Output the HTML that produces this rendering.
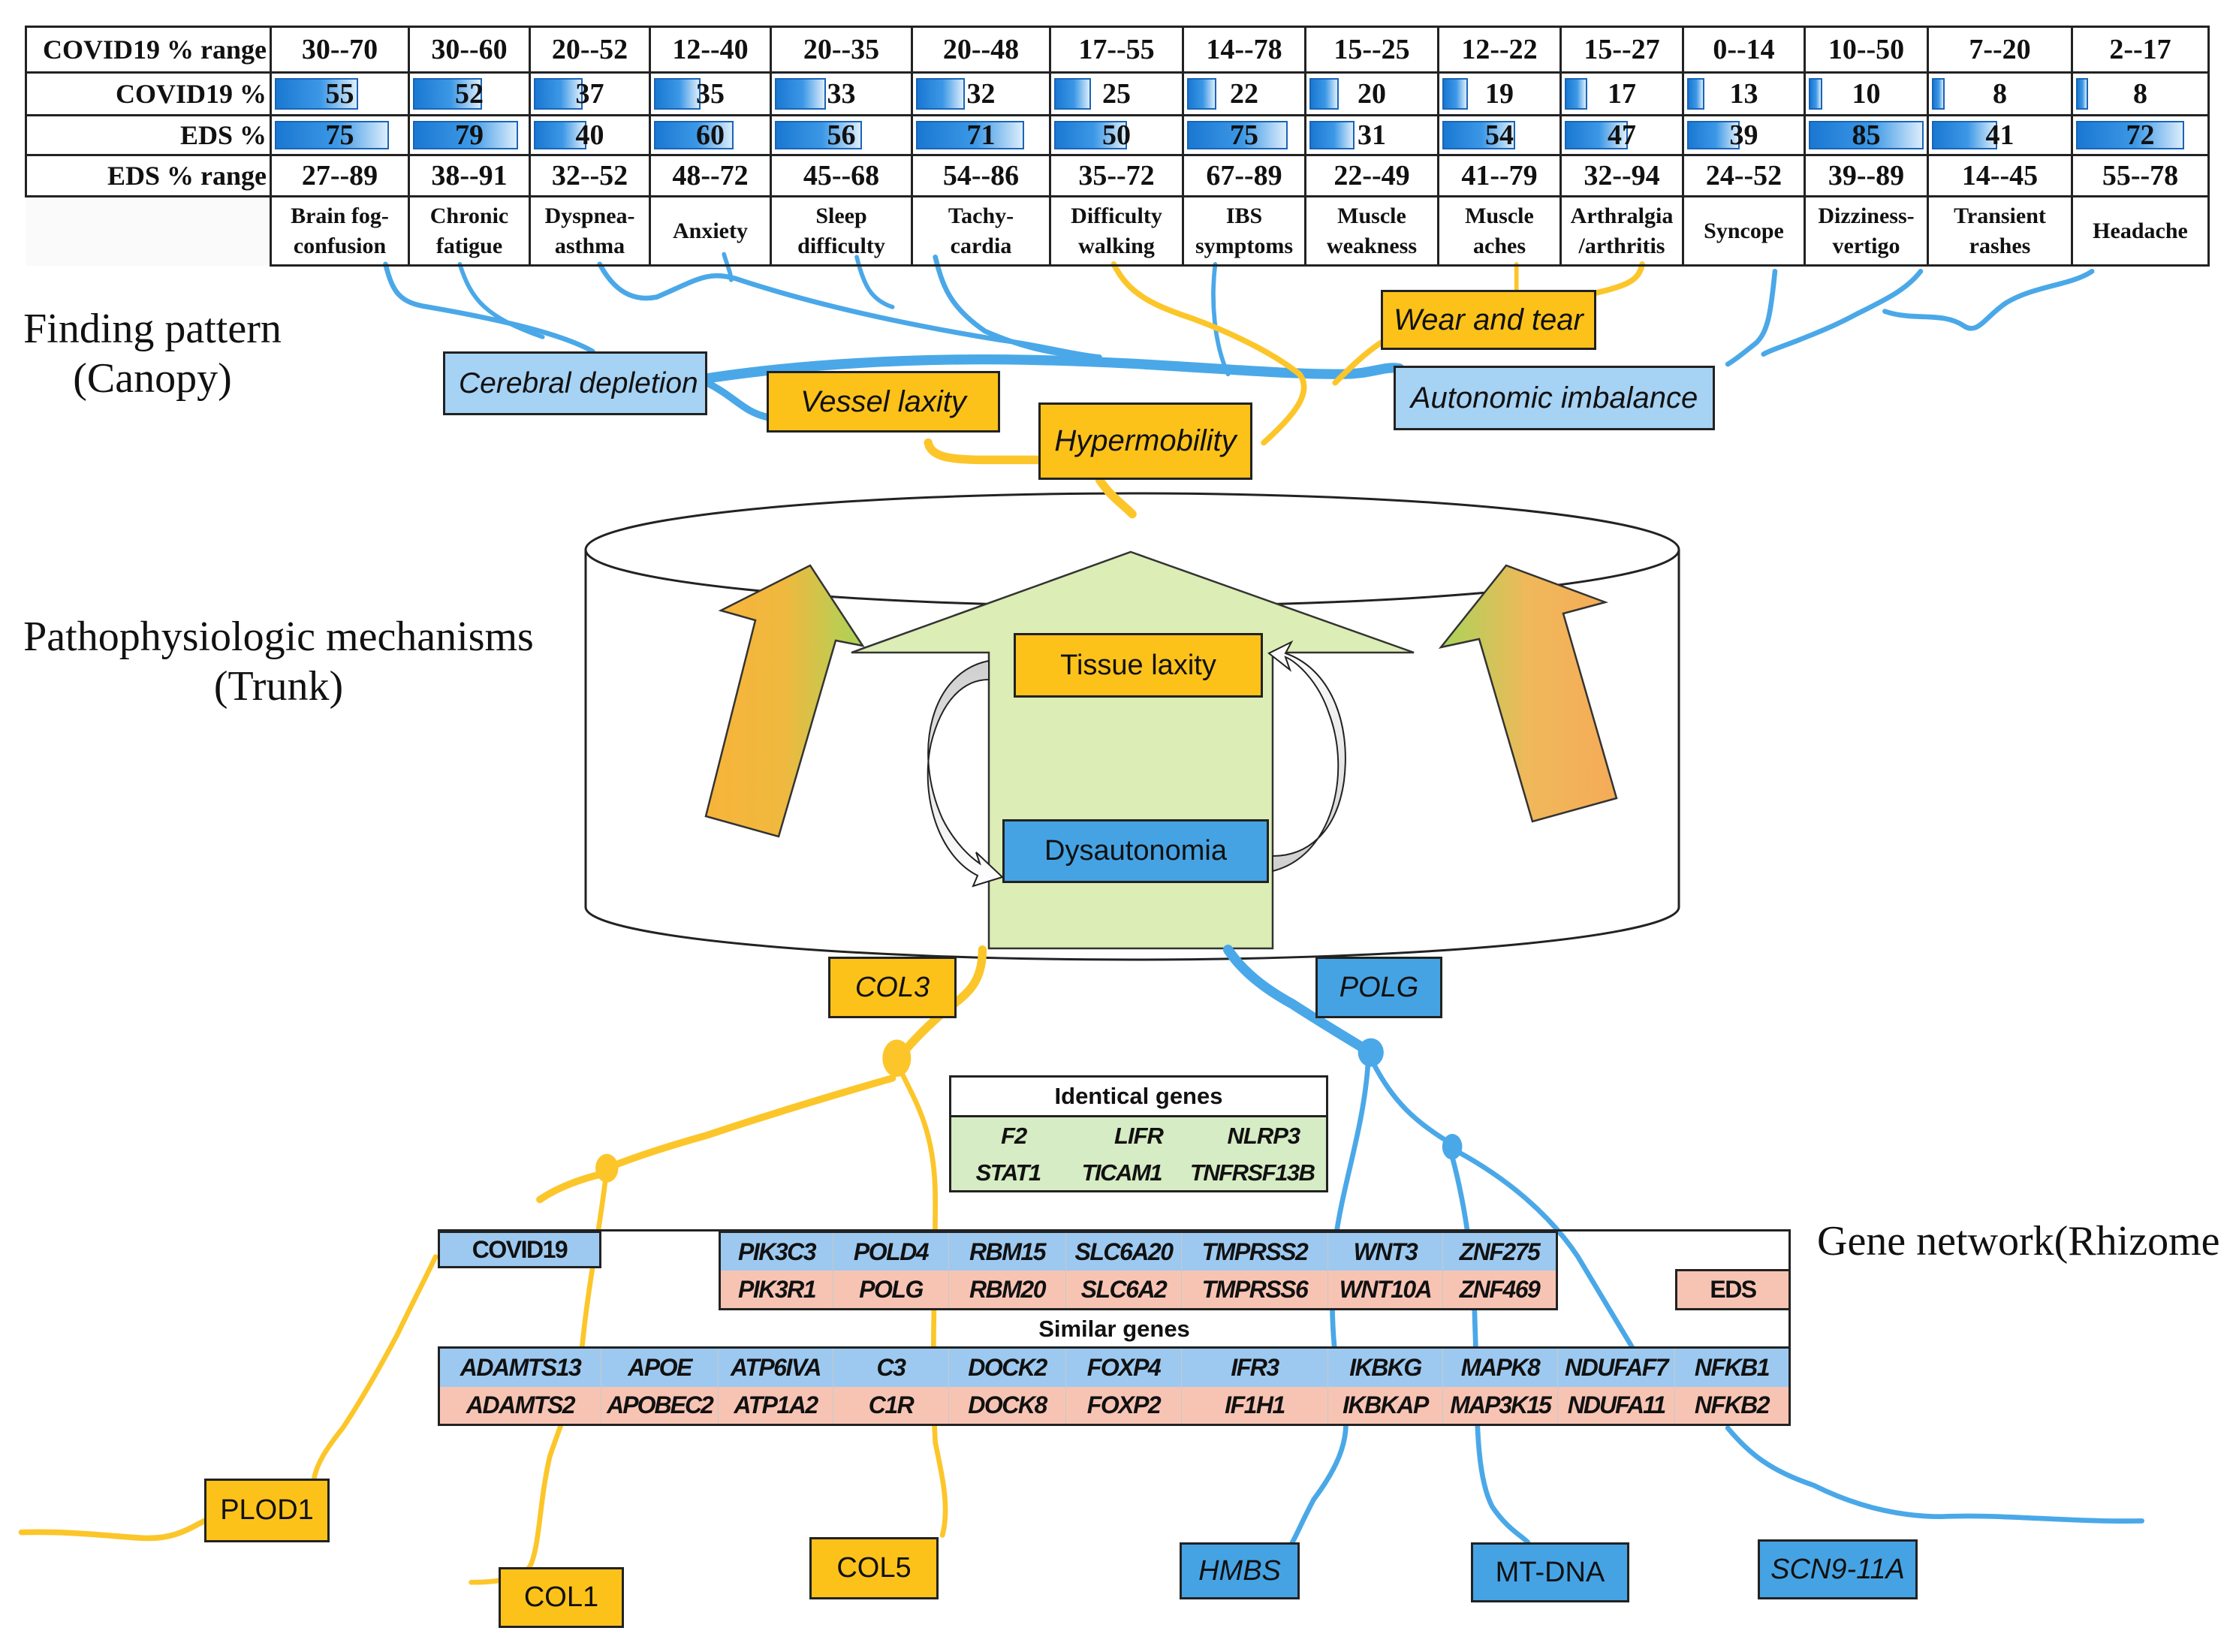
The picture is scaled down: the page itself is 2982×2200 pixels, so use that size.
<!DOCTYPE html>
<html><head><meta charset="utf-8">
<style>
html,body{margin:0;padding:0;background:#fff;}
#p{position:relative;width:2982px;height:2200px;overflow:hidden;background:#fff;}
.abs{position:absolute;}
table.t{position:absolute;left:33px;top:34px;border-collapse:collapse;table-layout:fixed;font-family:"Liberation Serif",serif;font-weight:bold;color:#111;}
table.t td{border:3px solid #222;text-align:center;padding:0;position:relative;font-size:38px;}
table.t td.h{text-align:right;padding-right:4px;font-size:36px;}
table.t tr.lab td{font-size:30px;line-height:40px;}
.bar{position:absolute;left:4px;top:6px;bottom:6px;background:linear-gradient(90deg,#1a78d2,#3c98e6 55%,#dcedfb);border:2px solid #1a64b8;box-sizing:border-box;}
.num{position:relative;z-index:1;}
.box{position:absolute;box-sizing:border-box;border:3px solid #222;display:flex;align-items:center;justify-content:center;font-family:"Liberation Sans",sans-serif;color:#111;}
.y{background:#fdc21a;}
.lb{background:#a6d2f4;}
.b{background:#45a3e4;}
.it{font-style:italic;}
.lbl{position:absolute;font-family:"Liberation Serif",serif;color:#111;font-size:56px;line-height:66px;text-align:center;white-space:nowrap;}
.g{position:absolute;box-sizing:border-box;display:flex;align-items:center;justify-content:center;font-family:"Liberation Sans",sans-serif;font-weight:bold;font-style:italic;font-size:32px;letter-spacing:-1.5px;color:#111;border-right:1px solid #c9c9c9;white-space:nowrap;}
.gb{background:#9dc9f0;}
.gp{background:#f7c4b4;}
</style></head><body><div id="p">

<svg class="abs" style="left:0;top:0" width="2982" height="2200">
<defs>
<linearGradient id="la" x1="0" y1="0" x2="1" y2="0"><stop offset="0" stop-color="#f7b43a"/><stop offset="0.5" stop-color="#f0b83e"/><stop offset="1" stop-color="#a9d45a"/></linearGradient>
<linearGradient id="ra" x1="0" y1="0" x2="1" y2="0"><stop offset="0" stop-color="#a9d45a"/><stop offset="0.5" stop-color="#f0b85a"/><stop offset="1" stop-color="#f5ab58"/></linearGradient>
<linearGradient id="gr" x1="0" y1="0" x2="0" y2="1"><stop offset="0" stop-color="#cfcfcf"/><stop offset="1" stop-color="#ffffff"/></linearGradient>
<linearGradient id="gr2" x1="0" y1="1" x2="0" y2="0"><stop offset="0" stop-color="#cfcfcf"/><stop offset="1" stop-color="#ffffff"/></linearGradient>
</defs>
<path d="M780,732 L780,1208 A728,70 0 0 0 2236,1208 L2236,732" fill="#fff" stroke="#222" stroke-width="3"/>
<ellipse cx="1508" cy="732" rx="728" ry="75" fill="#fff" stroke="#222" stroke-width="3"/>
<polygon points="1506,735 1883,869 1695,869 1695,1263 1317,1263 1317,869 1134,869" fill="#dcedb5" stroke="#333" stroke-width="2.5"/>
<polygon points="940,1087 1006,826 960,813 1079,753 1149,860 1113,853 1037,1114" fill="url(#la)" stroke="#333" stroke-width="2.5"/>
<polygon points="2041,1094 1970,851 1919,862 2006,753 2138,802 2082,817 2153,1063" fill="url(#ra)" stroke="#333" stroke-width="2.5"/>
<path d="M1317,880 C1240,895 1215,1000 1255,1090 C1270,1120 1290,1140 1305,1150 L1300,1135 L1335,1168 L1296,1180 L1302,1166 C1250,1140 1225,1060 1240,990 C1255,930 1285,905 1317,905 Z" fill="url(#gr)" stroke="#222" stroke-width="2"/>
<path d="M1695,1160 C1775,1140 1800,1030 1770,950 C1755,905 1725,880 1712,875 L1718,892 L1690,870 L1720,855 L1712,870 C1770,890 1800,960 1790,1040 C1780,1110 1740,1140 1695,1140 Z" fill="url(#gr2)" stroke="#222" stroke-width="2"/>
</svg>

<svg class="abs" style="left:0;top:0" width="2982" height="2200">
<g transform="scale(1.9018)" fill="none" stroke-linecap="round" stroke-linejoin="round">
<g stroke="#4aa8e8">
<path stroke-width="3.5" d="M270,185 C275,205 280,212 300,215 C340,222 390,232 415,246"/>
<path stroke-width="3" d="M322,185 C330,210 340,222 380,236"/>
<path stroke-width="7" d="M495,265 C540,258 620,250 720,252 C820,254 880,262 940,262 C960,262 970,256 980,258"/>
<path stroke-width="5" d="M495,268 C515,278 520,288 537,292"/>
<path stroke-width="3.5" d="M420,185 C428,200 440,212 460,208 C490,195 495,190 515,195 C560,210 620,225 700,238 C730,242 750,248 770,250"/>
<path stroke-width="3" d="M507,178 C510,188 512,192 512,196"/>
<path stroke-width="3" d="M600,180 C605,200 610,210 625,215"/>
<path stroke-width="3.5" d="M655,180 C660,200 665,215 690,232 C720,245 740,248 765,250"/>
<path stroke-width="3" d="M851,185 C848,210 850,240 860,262"/>
<path stroke-width="3.5" d="M1243,190 C1240,220 1238,232 1230,240 C1220,248 1215,252 1210,255"/>
<path stroke-width="3.5" d="M1345,190 C1335,203 1320,210 1300,220 C1285,228 1275,232 1260,238 C1250,242 1240,245 1235,248"/>
<path stroke-width="3.5" d="M1465,190 C1450,200 1425,200 1405,212 C1390,222 1385,235 1375,228 C1360,218 1340,225 1320,218"/>
<path stroke-width="7" d="M860,665 C870,680 885,692 905,703 C925,716 945,728 960,737"/>
<ellipse cx="960" cy="737" rx="9" ry="10" fill="#4aa8e8" stroke="none"/>
<path stroke-width="3.5" d="M958,745 C955,790 940,830 935,870 C930,920 935,960 942,990 C945,1010 935,1030 920,1050 C912,1065 908,1075 905,1080"/>
<path stroke-width="3.5" d="M962,745 C975,770 990,785 1015,800"/>
<ellipse cx="1017" cy="803" rx="7" ry="9" fill="#4aa8e8" stroke="none"/>
<path stroke-width="3.5" d="M1017,810 C1025,840 1032,880 1033,930 C1035,980 1032,1030 1045,1055 C1055,1070 1065,1075 1070,1080"/>
<path stroke-width="3.5" d="M1020,806 C1055,825 1085,850 1105,880 C1120,905 1135,930 1150,955"/>
<path stroke-width="3.5" d="M1210,1000 C1225,1018 1240,1030 1270,1040 C1300,1055 1330,1062 1360,1062 C1400,1060 1450,1066 1500,1065"/>
</g>
<g stroke="#fcc62a">
<path stroke-width="4" d="M780,185 C790,205 805,213 835,223 C870,236 895,250 910,262 C920,275 905,292 885,310"/>
<path stroke-width="4" d="M967,240 C955,248 945,258 935,268"/>
<path stroke-width="3" d="M1062,185 L1062,203"/>
<path stroke-width="4" d="M1150,185 C1148,196 1140,200 1118,205"/>
<path stroke-width="6" d="M650,310 C652,320 665,322 690,322 C710,322 720,322 727,322"/>
<path stroke-width="6" d="M770,336 C778,348 785,352 793,360"/>
<path stroke-width="6" d="M688,665 C688,685 680,695 665,705 C650,718 640,728 630,740"/>
<ellipse cx="628" cy="741" rx="10" ry="13" fill="#fcc62a" stroke="none"/>
<path stroke-width="3.5" d="M630,748 C640,770 655,790 655,840 C655,900 652,960 655,1010 C660,1035 665,1055 660,1075"/>
<path stroke-width="5" d="M625,755 C590,765 540,780 495,795 C470,802 445,810 425,818"/>
<ellipse cx="425" cy="818" rx="8" ry="10" fill="#fcc62a" stroke="none"/>
<path stroke-width="5" d="M422,822 C405,826 390,832 378,840"/>
<path stroke-width="3.5" d="M424,826 C420,860 412,900 408,940 C405,970 395,990 385,1020 C378,1050 378,1080 372,1095 C368,1105 350,1108 330,1108"/>
<path stroke-width="3.5" d="M305,880 C298,895 290,910 278,935 C262,965 250,985 240,1000 C228,1015 222,1025 220,1035"/>
<path stroke-width="4" d="M143,1065 C130,1072 120,1078 100,1077 C80,1076 50,1072 15,1073"/>
</g>
</g>
</svg>

<table class="t">
<colgroup><col style="width:326px"><col style="width:184px"><col style="width:161px"><col style="width:160px"><col style="width:161px"><col style="width:188px"><col style="width:184px"><col style="width:177px"><col style="width:163px"><col style="width:177px"><col style="width:163px"><col style="width:163px"><col style="width:162px"><col style="width:164px"><col style="width:192px"><col style="width:182px"></colgroup>
<tr style="height:61px"><td class="h">COVID19 % range</td><td>30--70</td><td>30--60</td><td>20--52</td><td>12--40</td><td>20--35</td><td>20--48</td><td>17--55</td><td>14--78</td><td>15--25</td><td>12--22</td><td>15--27</td><td>0--14</td><td>10--50</td><td>7--20</td><td>2--17</td></tr>
<tr style="height:57px"><td class="h">COVID19 %</td>
<td><div class="bar" style="width:111px"></div><span class="num">55</span></td>
<td><div class="bar" style="width:92px"></div><span class="num">52</span></td>
<td><div class="bar" style="width:65px"></div><span class="num">37</span></td>
<td><div class="bar" style="width:62px"></div><span class="num">35</span></td>
<td><div class="bar" style="width:68px"></div><span class="num">33</span></td>
<td><div class="bar" style="width:65px"></div><span class="num">32</span></td>
<td><div class="bar" style="width:49px"></div><span class="num">25</span></td>
<td><div class="bar" style="width:39px"></div><span class="num">22</span></td>
<td><div class="bar" style="width:39px"></div><span class="num">20</span></td>
<td><div class="bar" style="width:34px"></div><span class="num">19</span></td>
<td><div class="bar" style="width:30px"></div><span class="num">17</span></td>
<td><div class="bar" style="width:23px"></div><span class="num">13</span></td>
<td><div class="bar" style="width:18px"></div><span class="num">10</span></td>
<td><div class="bar" style="width:17px"></div><span class="num">8</span></td>
<td><div class="bar" style="width:16px"></div><span class="num">8</span></td></tr>
<tr style="height:53px"><td class="h">EDS %</td>
<td><div class="bar" style="width:152px"></div><span class="num">75</span></td>
<td><div class="bar" style="width:140px"></div><span class="num">79</span></td>
<td><div class="bar" style="width:70px"></div><span class="num">40</span></td>
<td><div class="bar" style="width:106px"></div><span class="num">60</span></td>
<td><div class="bar" style="width:116px"></div><span class="num">56</span></td>
<td><div class="bar" style="width:144px"></div><span class="num">71</span></td>
<td><div class="bar" style="width:97px"></div><span class="num">50</span></td>
<td><div class="bar" style="width:134px"></div><span class="num">75</span></td>
<td><div class="bar" style="width:60px"></div><span class="num">31</span></td>
<td><div class="bar" style="width:97px"></div><span class="num">54</span></td>
<td><div class="bar" style="width:84px"></div><span class="num">47</span></td>
<td><div class="bar" style="width:70px"></div><span class="num">39</span></td>
<td><div class="bar" style="width:153px"></div><span class="num">85</span></td>
<td><div class="bar" style="width:87px"></div><span class="num">41</span></td>
<td><div class="bar" style="width:144px"></div><span class="num">72</span></td></tr>
<tr style="height:55px"><td class="h">EDS % range</td><td>27--89</td><td>38--91</td><td>32--52</td><td>48--72</td><td>45--68</td><td>54--86</td><td>35--72</td><td>67--89</td><td>22--49</td><td>41--79</td><td>32--94</td><td>24--52</td><td>39--89</td><td>14--45</td><td>55--78</td></tr>
<tr class="lab" style="height:92px"><td style="border:none;border-right:3px solid #222;background:#fafafa"></td><td>Brain fog-<br>confusion</td><td>Chronic<br>fatigue</td><td>Dyspnea-<br>asthma</td><td>Anxiety</td><td>Sleep<br>difficulty</td><td>Tachy-<br>cardia</td><td>Difficulty<br>walking</td><td>IBS<br>symptoms</td><td>Muscle<br>weakness</td><td>Muscle<br>aches</td><td>Arthralgia<br>/arthritis</td><td>Syncope</td><td>Dizziness-<br>vertigo</td><td>Transient<br>rashes</td><td>Headache</td></tr>
</table>

<div class="lbl" style="left:28px;top:405px;width:350px;">Finding pattern<br>(Canopy)</div>
<div class="lbl" style="left:26px;top:815px;width:690px;">Pathophysiologic mechanisms<br>(Trunk)</div>
<div class="lbl" style="left:2420px;top:1620px;text-align:left;">Gene network(Rhizome</div>

<div class="box lb it" style="left:590px;top:468px;width:352px;height:85px;font-size:39px;justify-content:flex-start;padding-left:18px;white-space:nowrap;overflow:hidden;">Cerebral depletion</div>
<div class="box y it" style="left:1021px;top:494px;width:311px;height:82px;font-size:40px;">Vessel laxity</div>
<div class="box y it" style="left:1383px;top:536px;width:285px;height:103px;font-size:40px;">Hypermobility</div>
<div class="box y it" style="left:1839px;top:386px;width:287px;height:80px;font-size:40px;">Wear and tear</div>
<div class="box lb it" style="left:1856px;top:487px;width:428px;height:86px;font-size:40px;">Autonomic imbalance</div>

<div class="box y" style="left:1350px;top:843px;width:332px;height:86px;font-size:38px;">Tissue laxity</div>
<div class="box b" style="left:1335px;top:1091px;width:355px;height:85px;font-size:38px;">Dysautonomia</div>
<div class="box y it" style="left:1103px;top:1274px;width:171px;height:82px;font-size:38px;">COL3</div>
<div class="box b it" style="left:1752px;top:1274px;width:169px;height:82px;font-size:38px;">POLG</div>

<div class="abs" style="left:1264px;top:1432px;width:505px;height:156px;box-sizing:border-box;border:3px solid #222;background:#d6ecc4;">
<div style="height:50px;background:#fff;border-bottom:3px solid #222;text-align:center;font:bold 31px/50px 'Liberation Sans',sans-serif;color:#111;">Identical genes</div>
<div style="display:flex;font:bold italic 31px/50px 'Liberation Sans',sans-serif;color:#111;text-align:center;letter-spacing:-1px"><span style="flex:1">F2</span><span style="flex:1">LIFR</span><span style="flex:1">NLRP3</span></div>
<div style="display:flex;font:bold italic 31px/48px 'Liberation Sans',sans-serif;color:#111;text-align:center;letter-spacing:-1.5px"><span style="flex:1">STAT1</span><span style="flex:1">TICAM1</span><span style="flex:1.3">TNFRSF13B</span></div>
</div>

<div class="abs" style="left:583px;top:1637px;width:1802px;height:3px;background:#222"></div>
<div class="abs" style="left:2382px;top:1637px;width:3px;height:262px;background:#222"></div>
<div class="g gb" style="left:583px;top:1639px;width:218px;height:50px;font-style:normal;border:3px solid #222;">COVID19</div>
<div class="abs" style="left:957px;top:1639px;width:1118px;height:106px;box-sizing:border-box;border:3px solid #222;"></div>
<div class="g gb" style="left:960px;top:1642px;width:150px;height:50px;">PIK3C3</div>
<div class="g gb" style="left:1110px;top:1642px;width:154px;height:50px;">POLD4</div>
<div class="g gb" style="left:1264px;top:1642px;width:156px;height:50px;">RBM15</div>
<div class="g gb" style="left:1420px;top:1642px;width:154px;height:50px;">SLC6A20</div>
<div class="g gb" style="left:1574px;top:1642px;width:195px;height:50px;">TMPRSS2</div>
<div class="g gb" style="left:1769px;top:1642px;width:153px;height:50px;">WNT3</div>
<div class="g gb" style="left:1922px;top:1642px;width:150px;height:50px;border-right:none">ZNF275</div>
<div class="g gp" style="left:960px;top:1692px;width:150px;height:50px;">PIK3R1</div>
<div class="g gp" style="left:1110px;top:1692px;width:154px;height:50px;">POLG</div>
<div class="g gp" style="left:1264px;top:1692px;width:156px;height:50px;">RBM20</div>
<div class="g gp" style="left:1420px;top:1692px;width:154px;height:50px;">SLC6A2</div>
<div class="g gp" style="left:1574px;top:1692px;width:195px;height:50px;">TMPRSS6</div>
<div class="g gp" style="left:1769px;top:1692px;width:153px;height:50px;">WNT10A</div>
<div class="g gp" style="left:1922px;top:1692px;width:150px;height:50px;border-right:none">ZNF469</div>
<div class="g gp" style="left:2231px;top:1690px;width:154px;height:55px;font-style:normal;border:3px solid #222;">EDS</div>
<div class="abs" style="left:583px;top:1745px;width:1802px;height:50px;text-align:center;font:bold 31px/50px 'Liberation Sans',sans-serif;color:#111;">Similar genes</div>
<div class="abs" style="left:583px;top:1793px;width:1802px;height:106px;box-sizing:border-box;border:3px solid #222;"></div>
<div class="g gb" style="left:586px;top:1796px;width:215px;height:51px;">ADAMTS13</div>
<div class="g gb" style="left:801px;top:1796px;width:156px;height:51px;">APOE</div>
<div class="g gb" style="left:957px;top:1796px;width:153px;height:51px;">ATP6IVA</div>
<div class="g gb" style="left:1110px;top:1796px;width:154px;height:51px;">C3</div>
<div class="g gb" style="left:1264px;top:1796px;width:156px;height:51px;">DOCK2</div>
<div class="g gb" style="left:1420px;top:1796px;width:154px;height:51px;">FOXP4</div>
<div class="g gb" style="left:1574px;top:1796px;width:195px;height:51px;">IFR3</div>
<div class="g gb" style="left:1769px;top:1796px;width:153px;height:51px;">IKBKG</div>
<div class="g gb" style="left:1922px;top:1796px;width:153px;height:51px;">MAPK8</div>
<div class="g gb" style="left:2075px;top:1796px;width:156px;height:51px;">NDUFAF7</div>
<div class="g gb" style="left:2231px;top:1796px;width:151px;height:51px;border-right:none">NFKB1</div>
<div class="g gp" style="left:586px;top:1847px;width:215px;height:49px;">ADAMTS2</div>
<div class="g gp" style="left:801px;top:1847px;width:156px;height:49px;letter-spacing:-2px">APOBEC2</div>
<div class="g gp" style="left:957px;top:1847px;width:153px;height:49px;">ATP1A2</div>
<div class="g gp" style="left:1110px;top:1847px;width:154px;height:49px;">C1R</div>
<div class="g gp" style="left:1264px;top:1847px;width:156px;height:49px;">DOCK8</div>
<div class="g gp" style="left:1420px;top:1847px;width:154px;height:49px;">FOXP2</div>
<div class="g gp" style="left:1574px;top:1847px;width:195px;height:49px;">IF1H1</div>
<div class="g gp" style="left:1769px;top:1847px;width:153px;height:49px;">IKBKAP</div>
<div class="g gp" style="left:1922px;top:1847px;width:153px;height:49px;letter-spacing:-2px">MAP3K15</div>
<div class="g gp" style="left:2075px;top:1847px;width:156px;height:49px;letter-spacing:-2px">NDUFA11</div>
<div class="g gp" style="left:2231px;top:1847px;width:151px;height:49px;border-right:none">NFKB2</div>

<div class="box y" style="left:272px;top:1969px;width:167px;height:85px;font-size:38px;">PLOD1</div>
<div class="box y" style="left:664px;top:2087px;width:167px;height:81px;font-size:38px;">COL1</div>
<div class="box y" style="left:1078px;top:2047px;width:172px;height:83px;font-size:38px;">COL5</div>
<div class="box b it" style="left:1571px;top:2054px;width:160px;height:76px;font-size:38px;">HMBS</div>
<div class="box b" style="left:1959px;top:2054px;width:211px;height:80px;font-size:38px;">MT-DNA</div>
<div class="box b it" style="left:2341px;top:2050px;width:213px;height:80px;font-size:38px;">SCN9-11A</div>

</div></body></html>
